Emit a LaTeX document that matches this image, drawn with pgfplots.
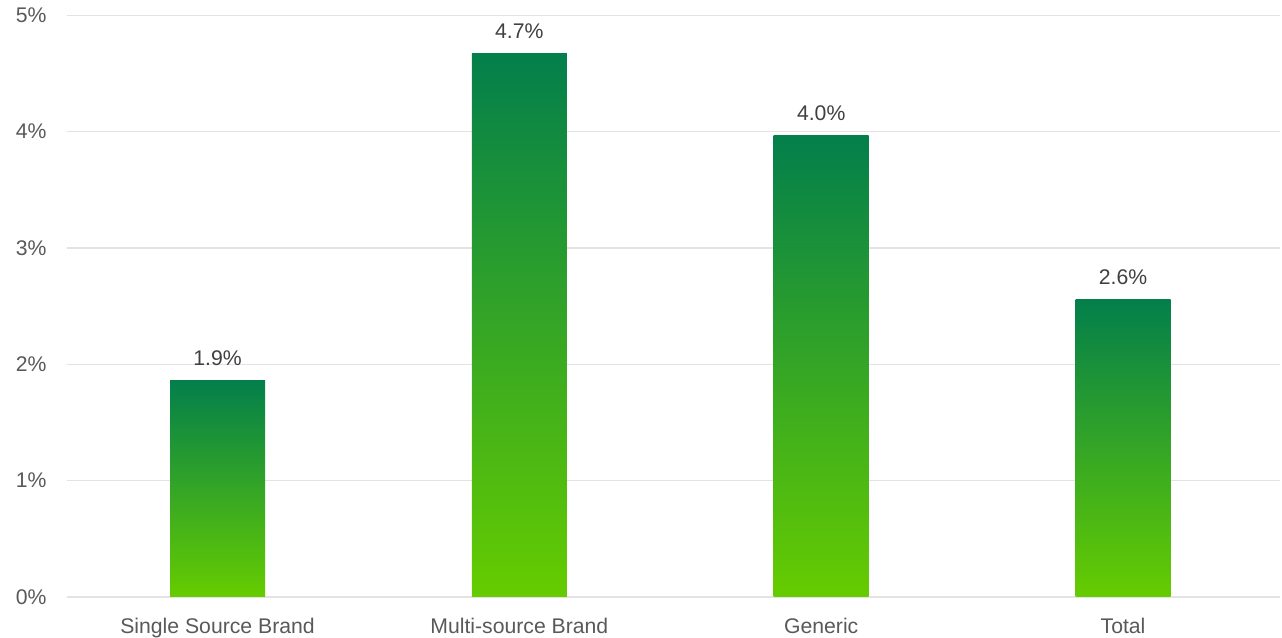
\documentclass[border=0pt]{standalone}
\usepackage{pgfplots}
\pgfplotsset{compat=1.18}
\usepackage{fontspec}
\setmainfont{Liberation Sans}
\definecolor{topg}{HTML}{037F4B}
\definecolor{midg}{HTML}{2A9A34}
\definecolor{botg}{HTML}{66CC00}
\definecolor{tickgray}{HTML}{595959}
\definecolor{labgray}{HTML}{404040}
\definecolor{gridc}{HTML}{E3E3E3}
\pgfplotsset{gbar/.style={ybar, bar shift=0pt, bar width=47.5pt, draw=none,
  top color=topg, middle color=midg, bottom color=botg,
  point meta=explicit symbolic,
  nodes near coords,
  every node near coord/.append style={font=\fontsize{10.6}{12}\selectfont, text=labgray, yshift=3.8pt}}}
\begin{document}
\begin{tikzpicture}
\begin{axis}[
  at={(0,0)}, anchor=south west,
  scale only axis,
  width=606.7pt, height=290.85pt,
  xmin=-0.5, xmax=3.52,
  ymin=0, ymax=5,
  ytick={0,1,2,3,4,5},
  yticklabels={0\%,1\%,2\%,3\%,4\%,5\%},
  xtick={0,1,2,3},
  xticklabels={Single Source Brand,Multi-source Brand,Generic,Total},
  ymajorgrids,
  grid style={gridc, line width=0.6pt},
  axis line style={draw=none},
  axis x line*=bottom,
  axis y line*=left,
  major tick length=0pt,
  tick style={draw=none},
  ticklabel style={font=\fontsize{10.6}{12}\selectfont, text=tickgray},
  yticklabel style={xshift=-6.5pt},
  xticklabel style={yshift=-7pt},
  /pgf/number format/assume math mode=true,
  clip=false,
]
\draw[gridc, line width=0.6pt] (axis cs:-0.5,0) -- (axis cs:3.52,0);
\addplot[gbar] coordinates {(0,1.86) [1.9\%]};
\addplot[gbar] coordinates {(1,4.67) [4.7\%]};
\addplot[gbar] coordinates {(2,3.97) [4.0\%]};
\addplot[gbar] coordinates {(3,2.56) [2.6\%]};
\end{axis}
\pgfresetboundingbox
\path[use as bounding box] (-33.3pt,-20.5pt) rectangle (607.7pt,298.5pt);
\end{tikzpicture}
\end{document}
